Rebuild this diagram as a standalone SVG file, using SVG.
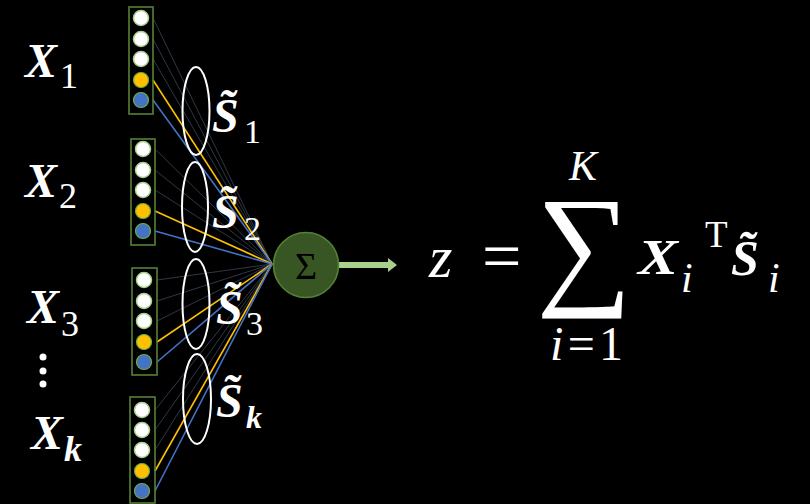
<svg xmlns="http://www.w3.org/2000/svg" width="810" height="504" viewBox="0 0 810 504">
<defs>
<style>
.box{fill:none;stroke:#548235;stroke-width:1.6}
.cw{fill:#ffffff;stroke:#a9d18e;stroke-width:1.5}
.cy{fill:#ffc000;stroke:#70ad47;stroke-width:1.2}
.cb{fill:#4472c4;stroke:#70ad47;stroke-width:1.2}
.lg{stroke:#3b4658;stroke-width:1;fill:none;opacity:0.8}
.ly{stroke:#ffc000;stroke-width:1.6;fill:none}
.lb{stroke:#4472c4;stroke-width:1.6;fill:none}
.ell{fill:none;stroke:#ffffff;stroke-width:2}
.bi{font-family:"Liberation Serif","DejaVu Serif",serif;font-weight:bold;font-style:italic;fill:#ffffff}
.rg{font-family:"Liberation Serif","DejaVu Serif",serif;fill:#ffffff}
.it{font-family:"Liberation Serif","DejaVu Serif",serif;font-style:italic;fill:#ffffff}
</style>
</defs>
<rect width="810" height="504" fill="#000000"/>

<g id="connectors">
<g id="c1">
<line class="lg" x1="153" y1="18" x2="272" y2="264"/>
<line class="lg" x1="153" y1="39" x2="272" y2="264"/>
<line class="lg" x1="153" y1="59" x2="272" y2="264"/>
<line class="ly" x1="153" y1="80" x2="272" y2="264"/>
<line class="lb" x1="153" y1="100" x2="272" y2="264"/>
</g>
<g id="c2">
<line class="lg" x1="155" y1="149" x2="272" y2="264"/>
<line class="lg" x1="155" y1="170" x2="272" y2="264"/>
<line class="lg" x1="155" y1="190" x2="272" y2="264"/>
<line class="ly" x1="155" y1="211" x2="272" y2="264"/>
<line class="lb" x1="155" y1="231" x2="272" y2="264"/>
</g>
<g id="c3">
<line class="lg" x1="157" y1="280" x2="272" y2="264"/>
<line class="lg" x1="157" y1="301" x2="272" y2="264"/>
<line class="lg" x1="157" y1="321" x2="272" y2="264"/>
<line class="ly" x1="157" y1="342" x2="272" y2="264"/>
<line class="lb" x1="157" y1="362" x2="272" y2="264"/>
</g>
<g id="c4">
<line class="lg" x1="155" y1="410" x2="272" y2="264"/>
<line class="lg" x1="155" y1="430" x2="272" y2="264"/>
<line class="lg" x1="155" y1="450" x2="272" y2="264"/>
<line class="ly" x1="155" y1="471" x2="272" y2="264"/>
<line class="lb" x1="155" y1="491" x2="272" y2="264"/>
</g>
<path id="out-arrow" d="M339,262 L388,262 L388,258 L397,265 L388,272 L388,268 L339,268 Z" fill="#a9d18e"/>
</g>

<g id="x1">
<rect class="box" x="129" y="7" width="24" height="107"/>
<circle class="cw" cx="141" cy="18" r="7.5"/>
<circle class="cw" cx="141" cy="39" r="7.5"/>
<circle class="cw" cx="141" cy="59" r="7.5"/>
<circle class="cy" cx="141" cy="80" r="7.5"/>
<circle class="cb" cx="141" cy="100" r="7.5"/>
<text class="bi" x="25" y="77" font-size="48">X</text>
<text class="rg" x="60" y="88" font-size="36">1</text>
</g>

<g id="x2">
<rect class="box" x="131" y="139" width="24" height="106"/>
<circle class="cw" cx="143" cy="149" r="7.5"/>
<circle class="cw" cx="143" cy="170" r="7.5"/>
<circle class="cw" cx="143" cy="190" r="7.5"/>
<circle class="cy" cx="143" cy="211" r="7.5"/>
<circle class="cb" cx="143" cy="231" r="7.5"/>
<text class="bi" x="25" y="197" font-size="48">X</text>
<text class="rg" x="59" y="208" font-size="36">2</text>
</g>

<g id="x3">
<rect class="box" x="132" y="268" width="25" height="107"/>
<circle class="cw" cx="144" cy="280" r="7.5"/>
<circle class="cw" cx="144" cy="301" r="7.5"/>
<circle class="cw" cx="144" cy="321" r="7.5"/>
<circle class="cy" cx="144" cy="342" r="7.5"/>
<circle class="cb" cx="144" cy="362" r="7.5"/>
<text class="bi" x="27" y="323" font-size="48">X</text>
<text class="rg" x="61" y="336" font-size="36">3</text>
</g>

<g id="dots">
<circle cx="43" cy="357" r="3.5" fill="#ffffff"/>
<circle cx="43" cy="371" r="3.5" fill="#ffffff"/>
<circle cx="43" cy="384" r="3.5" fill="#ffffff"/>
</g>

<g id="xk">
<rect class="box" x="130" y="397" width="25" height="106"/>
<circle class="cw" cx="142" cy="410" r="7.5"/>
<circle class="cw" cx="142" cy="430" r="7.5"/>
<circle class="cw" cx="142" cy="450" r="7.5"/>
<circle class="cy" cx="142" cy="471" r="7.5"/>
<circle class="cb" cx="142" cy="491" r="7.5"/>
<text class="bi" x="31" y="449" font-size="48">X</text>
<text class="bi" x="64" y="461" font-size="36">k</text>
</g>

<g id="s1">
<ellipse class="ell" cx="196" cy="111" rx="13.5" ry="44"/>
<text class="bi" x="212" y="132" font-size="48">S̃</text>
<text class="rg" x="244" y="143" font-size="34">1</text>
</g>
<g id="s2">
<ellipse class="ell" cx="195" cy="207" rx="13" ry="45"/>
<text class="bi" x="212" y="228" font-size="48">S̃</text>
<text class="rg" x="244" y="240" font-size="34">2</text>
</g>
<g id="s3">
<ellipse class="ell" cx="196" cy="304" rx="13.5" ry="45"/>
<text class="bi" x="216" y="324" font-size="48">S̃</text>
<text class="rg" x="246" y="335" font-size="34">3</text>
</g>
<g id="sk">
<ellipse class="ell" cx="197" cy="399" rx="14" ry="45"/>
<text class="bi" x="216" y="417" font-size="48">S̃</text>
<text class="bi" x="246" y="428" font-size="32">k</text>
</g>

<g id="sum-node">
<circle cx="306" cy="265" r="32.5" fill="#375623" stroke="#548235" stroke-width="1.6"/>
<text x="306" y="279" font-size="38" text-anchor="middle" font-family="Liberation Serif, DejaVu Serif, serif" fill="#000000">Σ</text>
</g>

<g id="formula">
<text class="it" x="429" y="277" font-size="60">z</text>
<text class="rg" x="482" y="280" font-size="70">=</text>
<text class="rg" x="584" y="290" font-size="134" text-anchor="middle">∑</text>
<text class="it" x="569" y="180" font-size="42">K</text>
<text class="rg" x="550" y="360" font-size="48" textLength="73" lengthAdjust="spacing"><tspan font-style="italic">i</tspan>=1</text>
<text class="bi" x="638" y="274" font-size="50" textLength="40" lengthAdjust="spacingAndGlyphs">X</text>
<text class="it" x="681" y="292" font-size="42">i</text>
<text class="rg" x="705" y="247" font-size="37">T</text>
<text class="bi" x="731" y="275" font-size="50">S̃</text>
<text class="it" x="768" y="292" font-size="42">i</text>
</g>
</svg>
